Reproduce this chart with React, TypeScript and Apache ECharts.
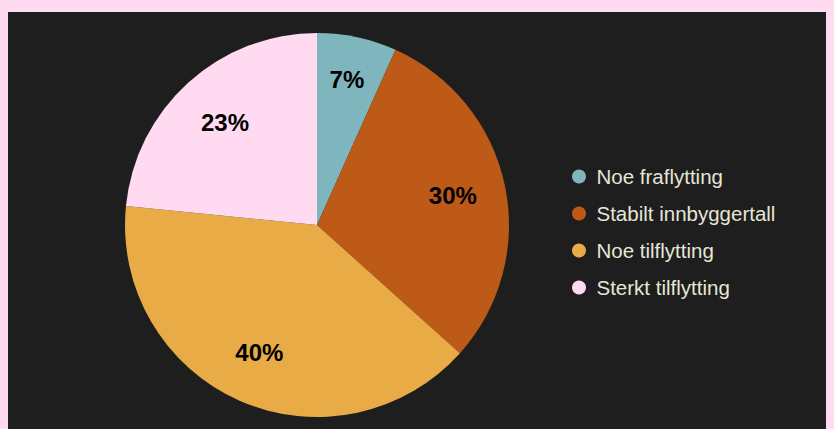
import React, { useEffect, useRef } from "react";
import * as echarts from "echarts";

const categories = ["Noe fraflytting", "Stabilt innbyggertall", "Noe tilflytting", "Sterkt tilflytting"];
const values = [6.7, 29.9, 39.9, 23.4];
const colors = ["#7fb5bd", "#bd5a18", "#e8ab45", "#ffdaf0"];
const labelOffsets = [[0, -6], [-4, 0], [0, -3], [4, 3]];

export default function App() {
  const ref = useRef<HTMLDivElement>(null);
  useEffect(() => {
    document.body.style.background = "#ffdaf0";
    const chart = echarts.init(ref.current!, undefined, { renderer: "svg" });
    const data = categories.map((name, i) => ({ name, value: values[i] }));
    const labelData = categories.map((name, i) => ({
      name,
      value: values[i],
      label: { offset: labelOffsets[i] },
    }));
    chart.setOption({
      animation: false,
      backgroundColor: "#1e1e1e",
      color: colors,
      textStyle: { fontFamily: "Liberation Sans, Arial, sans-serif" },
      legend: {
        orient: "vertical",
        left: 559,
        top: 149,
        icon: "circle",
        itemWidth: 25,
        itemHeight: 14,
        itemGap: 16,
        data: categories,
        textStyle: { color: "#e6e6d6", fontSize: 20.5, fontFamily: "Liberation Sans, Arial, sans-serif" },
      },
      series: [
        {
          type: "pie",
          center: [309, 213],
          radius: [0, 192],
          startAngle: 90,
          clockwise: true,
          data,
          label: { show: false },
          labelLine: { show: false },
          emphasis: { disabled: true },
        },
        {
          type: "pie",
          center: [309, 213],
          radius: [0, 280],
          startAngle: 90,
          clockwise: true,
          silent: true,
          legendHoverLink: false,
          data: labelData,
          itemStyle: { color: "rgba(0,0,0,0)" },
          label: {
            show: true,
            position: "inside",
            color: "#000",
            fontSize: 24,
            fontWeight: "bold",
            fontFamily: "Liberation Sans, Arial, sans-serif",
            formatter: (p: any) => Math.round(p.value) + "%",
          },
          labelLine: { show: false },
          emphasis: { disabled: true },
        },
      ],
    });
    return () => chart.dispose();
  }, []);
  return <div ref={ref} style={{ width: 818, height: 417, marginTop: 4 }} />;
}
